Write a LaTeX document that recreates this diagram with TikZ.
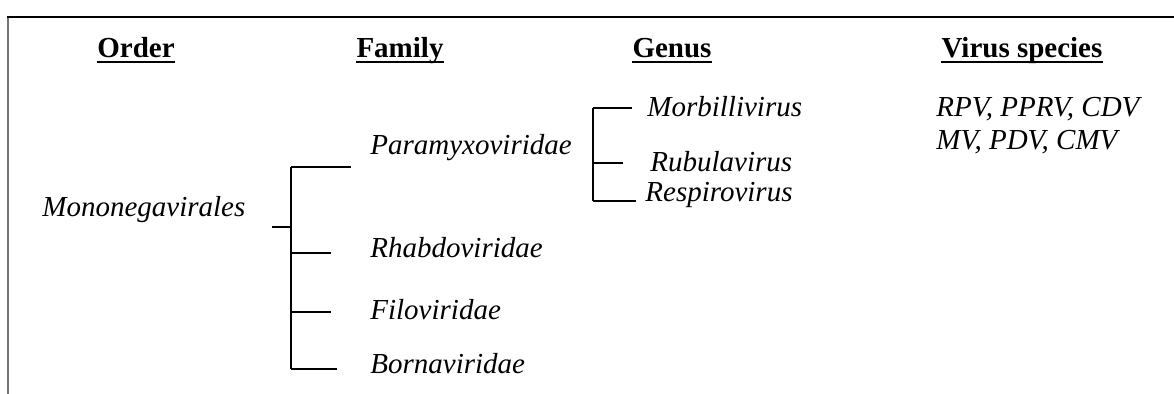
\documentclass[tikz,border=0pt]{standalone}
\usepackage{fontspec}
\setmainfont{Liberation Serif}
\usetikzlibrary{positioning}

\begin{document}
\begin{tikzpicture}[
      x=0.5pt, y=-0.5pt, % pixel grid of the scan, y pointing down
      head/.style={font=\fontsize{14.5}{17}\selectfont\bfseries, inner sep=0pt, anchor=base},
      taxon/.style={font=\fontsize{14.5}{17}\selectfont\itshape, inner sep=0pt, anchor=base west},
      uline/.style={line width=0.9pt},
      trunk/.style={line width=1.4pt},
      branch/.style={line width=0.9pt},
      frame/.style={line width=1pt},
    ]
    \useasboundingbox (0,0) rectangle (1174,394);

    % ---- frame ------------------------------------------------------------
    \draw[frame, black!55] (8,17) -- (8,394);
    \draw[frame] (7,17) -- (1174,17);

    % ---- column heads -----------------------------------------------------
    \node[head] (order)   at (136,58)  {Order};
    \node[head] (family)  at (400,58)  {Family};
    \node[head] (genus)   at (672,58)  {Genus};
    \node[head] (species) at (1022,58) {Virus species};
    \foreach \h in {order,family,genus,species}{%
      \draw[uline] ([yshift=-2pt]\h.base west) -- ([yshift=-2pt]\h.base east);
    }

    % ---- taxa -------------------------------------------------------------
    \node[taxon] (mono)     at (42,217)  {Mononegavirales};
    \node[taxon] (para)     at (370,155) {Paramyxoviridae};
    \node[taxon] (rhabdo)   at (370,258) {Rhabdoviridae};
    \node[taxon] (filo)     at (370,320) {Filoviridae};
    \node[taxon] (borna)    at (370,374) {Bornaviridae};
    \node[taxon] (morbilli) at (647,117) {Morbillivirus};
    \node[taxon] (rubula)   at (650,172) {Rubulavirus};
    \node[taxon] (respiro)  at (645,202) {Respirovirus};
    \node[taxon] (rpv)      at (936,117) {RPV, PPRV, CDV};
    \node[taxon] (mv)       at (936,150) {MV, PDV, CMV};

    % ---- order to families ------------------------------------------------
    \coordinate (famtop)  at (291,167);
    \coordinate (fambot)  at (291,369);
    \coordinate (monoout) at (272,227);
    \draw[trunk] (famtop) -- (fambot);
    \draw[branch] (monoout) -- (monoout -| famtop);
    \foreach \n/\y/\xe in {para/167/351, rhabdo/253/331, filo/312/331, borna/369/337}{%
      \coordinate (\n-in) at (\xe,\y);
      \draw[branch] (\n-in -| famtop) -- (\n-in);
    }

    % ---- family to genera -------------------------------------------------
    \coordinate (gentop) at (593,108);
    \coordinate (genbot) at (593,201);
    \draw[branch] (gentop) -- (genbot);
    \foreach \n/\y/\xe in {morbilli/108/632, rubula/163/623, respiro/201/636}{%
      \coordinate (\n-in) at (\xe,\y);
      \draw[branch] (\n-in -| gentop) -- (\n-in);
    }
  \end{tikzpicture}
\end{document}
